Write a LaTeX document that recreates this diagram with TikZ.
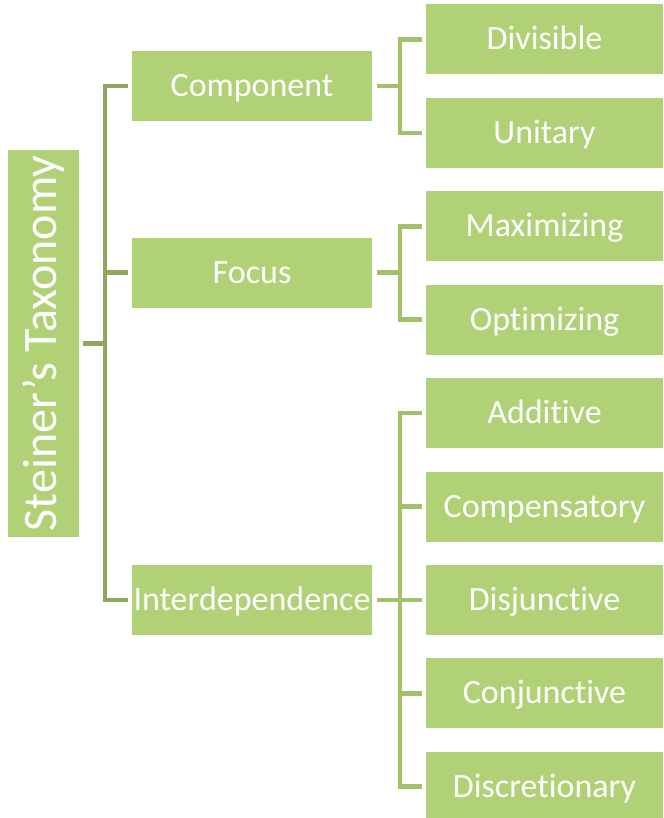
\documentclass[tikz,border=0pt]{standalone}
\usepackage{fontspec}
\usepackage{graphicx}
\setmainfont{Carlito}[Ligatures=NoCommon]
\definecolor{boxg}{HTML}{B1D177}
\definecolor{darkln}{HTML}{8FA85E}
\definecolor{lightln}{HTML}{A2C16A}
\begin{document}
\begin{tikzpicture}[x=1pt,y=-1pt,
  box/.style={fill=boxg, text=white, inner sep=0pt, minimum height=70pt, text height=25.5pt, text depth=4.5pt, font=\fontsize{34}{34}\selectfont},
  midbox/.style={box, minimum width=240pt},
  leafbox/.style={box, minimum width=237pt},
  rootbox/.style={fill=boxg, text=white, inner sep=0pt, minimum width=71pt, minimum height=387pt, font=\fontsize{48}{48}\selectfont},
  rootconn/.style={draw=darkln, line width=4.5pt, line join=miter, shorten <=4pt, shorten >=4pt},
  leafconn/.style={draw=lightln, line width=4.5pt, line join=miter, shorten <=5pt, shorten >=4pt}]
\useasboundingbox (0,0) rectangle (663,818);
\node[rootbox] (root) at (43.5,343.5) {\rotatebox{90}{Steiner’s Taxonomy}};
\node[midbox] (comp) at (252,86) {Component};
\node[midbox] (focus) at (252,272.5) {Focus};
\node[midbox] (inter) at (252,600) {Interdependence};
\node[leafbox] (div) at (544.5,39.5) {Divisible};
\node[leafbox] (uni) at (544.5,133) {Unitary};
\node[leafbox] (max) at (544.5,226.3) {Maximizing};
\node[leafbox] (opt) at (544.5,319.7) {Optimizing};
\node[leafbox] (add) at (544.5,413.1) {Additive};
\node[leafbox] (comps) at (544.5,506.5) {Compensatory};
\node[leafbox] (disj) at (544.5,600) {Disjunctive};
\node[leafbox] (conj) at (544.5,693.3) {Conjunctive};
\node[leafbox] (disc) at (544.5,786.7) {Discretionary};
\coordinate (j0) at (105,343.5);
\coordinate (j1) at (400,86);
\coordinate (j2) at (400,272.5);
\coordinate (j3) at (400,600);
\foreach \c in {comp,focus,inter} \draw[rootconn] (root.east) -- (j0) |- (\c.west);
\foreach \c in {div,uni} \draw[leafconn] (comp.east) -- (j1) |- (\c.west);
\foreach \c in {max,opt} \draw[leafconn] (focus.east) -- (j2) |- (\c.west);
\foreach \c in {add,comps,disj,conj,disc} \draw[leafconn] (inter.east) -- (j3) |- (\c.west);
\end{tikzpicture}
\end{document}
